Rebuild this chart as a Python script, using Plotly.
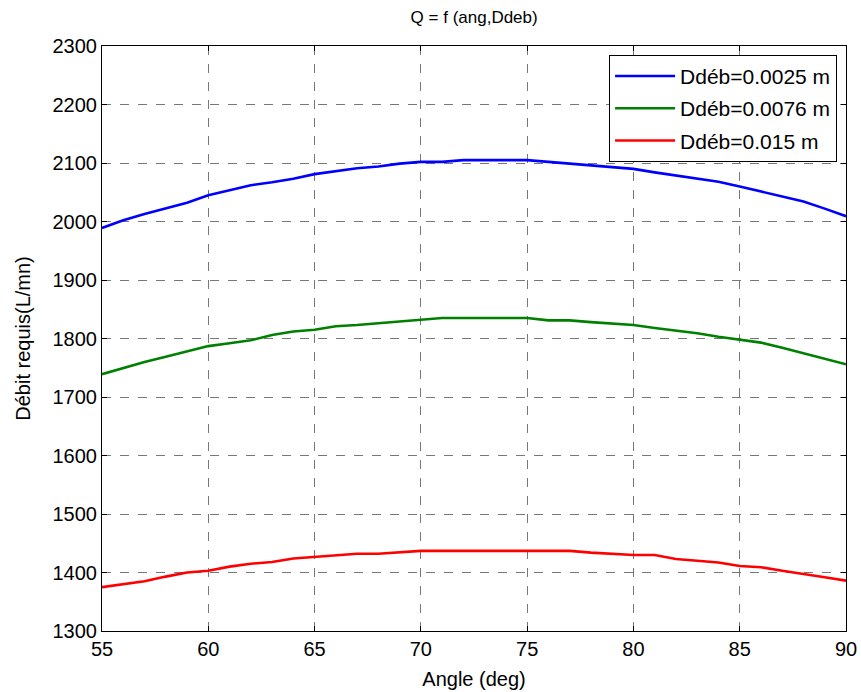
import plotly.graph_objects as go

# Angle (deg) and required flow rate (L/mn) for three outlet diameters
angles = list(range(55, 91))

q_d0025 = [1989, 2002, 2013, 2023, 2032, 2045, 2053, 2062, 2067, 2073,
           2081, 2086, 2091, 2094, 2099, 2102, 2102, 2105, 2105, 2105,
           2105, 2102, 2099, 2096, 2093, 2090, 2084, 2079, 2074, 2068,
           2060, 2051, 2042, 2034, 2022, 2009]

q_d0076 = [1739, 1750, 1760, 1769, 1778, 1787, 1792, 1797, 1806, 1812,
           1815, 1821, 1823, 1826, 1829, 1831, 1835, 1835, 1835, 1835,
           1835, 1831, 1831, 1828, 1826, 1823, 1818, 1814, 1809, 1803,
           1798, 1793, 1784, 1775, 1766, 1756]

q_d015 = [1375, 1380, 1385, 1393, 1400, 1403, 1410, 1415, 1418, 1424,
          1427, 1430, 1432, 1432, 1435, 1437, 1437, 1437, 1437, 1437,
          1437, 1437, 1437, 1434, 1432, 1430, 1430, 1423, 1420, 1417,
          1411, 1409, 1403, 1398, 1392, 1386]

series_names = ["Ddéb=0.0025 m", "Ddéb=0.0076 m", "Ddéb=0.015 m"]
series_values = [q_d0025, q_d0076, q_d015]
series_colors = ["#0000ff", "#008000", "#ff0000"]

x_ticks = [55, 60, 65, 70, 75, 80, 85, 90]
y_ticks = list(range(1300, 2301, 100))

font_family = "Liberation Sans, Arial, sans-serif"

fig = go.Figure()
for name, vals, col in zip(series_names, series_values, series_colors):
    fig.add_trace(go.Scatter(
        x=angles, y=vals, mode="lines", name=name, legendgroup=name,
        line=dict(color=col, width=2.6),
    ))

axis_common = dict(
    showline=True, linecolor="black", linewidth=1, mirror="ticks",
    ticks="inside", ticklen=5, tickcolor="black",
    showgrid=True, gridcolor="#777777", griddash="dash", gridwidth=1,
    zeroline=False, automargin=False,
    tickfont=dict(family=font_family, size=20, color="black"),
)

fig.update_xaxes(
    range=[55, 90], tickvals=x_ticks,
    title=dict(text="Angle (deg)", font=dict(family=font_family, size=20, color="black"),
               standoff=12),
    **axis_common,
)
fig.update_yaxes(
    range=[1300, 2300], tickvals=y_ticks,
    title=dict(text="Débit requis(L/mn)", font=dict(family=font_family, size=20, color="black"),
               standoff=16),
    **axis_common,
)

fig.update_layout(
    width=861, height=692,
    margin=dict(l=102, r=15, t=46, b=61, autoexpand=False),
    paper_bgcolor="white", plot_bgcolor="white",
    title=dict(text="Q = f (ang,Ddeb)", x=0.5507, xanchor="center", y=0.975, yanchor="middle",
               font=dict(family=font_family, size=17, color="black")),
    legend=dict(
        x=0.988, y=0.985, xanchor="right", yanchor="top",
        bgcolor="white", bordercolor="black", borderwidth=1,
        font=dict(family=font_family, size=21, color="black"),
        tracegroupgap=2, itemwidth=60,
    ),
    showlegend=True,
)

fig.write_html("out.html")
